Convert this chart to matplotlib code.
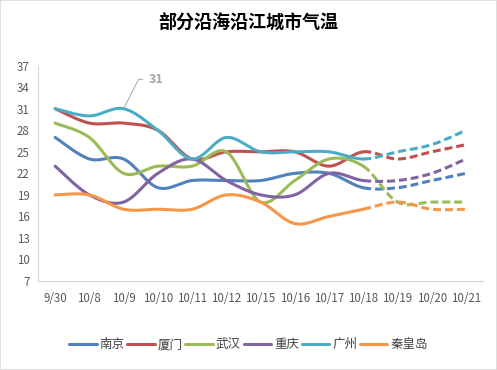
import numpy as np
import matplotlib
matplotlib.use('Agg')
import matplotlib.pyplot as plt
from matplotlib.patches import Rectangle

plt.rcParams['font.family'] = ['Noto Sans CJK SC', 'DejaVu Sans']

dates = ['9/30', '10/8', '10/9', '10/10', '10/11', '10/12', '10/15',
         '10/16', '10/17', '10/18', '10/19', '10/20', '10/21']
nanjing = [27, 24, 24, 20, 21, 21, 21, 22, 22, 20, 20, 21, 22]
xiamen = [31, 29, 29, 28, 24, 25, 25, 25, 23, 25, 24, 25, 26]
wuhan = [29, 27, 22, 23, 23, 25, 18, 21, 24, 23, 18, 18, 18]
chongqing = [23, 19, 18, 22, 24, 21, 19, 19, 22, 21, 21, 22, 24]
guangzhou = [31, 30, 31, 28, 24, 27, 25, 25, 25, 24, 25, 26, 28]
qinhuangdao = [19, 19, 17, 17, 17, 19, 18, 15, 16, 17, 18, 17, 17]
names = ['南京', '厦门', '武汉', '重庆', '广州', '秦皇岛']
colors = ['#4F81BD', '#C0504D', '#9BBB59', '#8064A2', '#4BACC6', '#F79646']
last_actual = 9  # 10/18, forecast dashed after this


def smooth(y, n=30):
    # excel-like bezier smoothing, control points at P +- (P_next - P_prev)/6
    pts = np.column_stack([np.arange(len(y)), np.asarray(y, float)])
    ext = np.vstack([pts[0], pts, pts[-1]])
    out = []
    t = np.linspace(0, 1, n)[:, None]
    for i in range(len(pts) - 1):
        p0, p3 = ext[i + 1], ext[i + 2]
        p1 = p0 + (ext[i + 2] - ext[i]) / 6
        p2 = p3 - (ext[i + 3] - ext[i + 1]) / 6
        seg = ((1 - t) ** 3) * p0 + 3 * ((1 - t) ** 2) * t * p1 + 3 * (1 - t) * t ** 2 * p2 + t ** 3 * p3
        out.append(seg if i == 0 else seg[1:])
    out = np.vstack(out)
    return out[:, 0], out[:, 1]


fig = plt.figure(figsize=(4.97, 3.70), dpi=100)
fig.patches.append(Rectangle((0, 0), 1, 1, transform=fig.transFigure, fill=False,
                             edgecolor='#D9D9D9', linewidth=1.2))
ax = fig.add_axes([0.0765, 0.2405, 0.8955, 0.582])

series = [nanjing, xiamen, wuhan, chongqing, guangzhou, qinhuangdao]
for vals, name, c in zip(series, names, colors):
    xs, ys = smooth(vals)
    m = xs <= last_actual
    ax.plot(xs[m], ys[m], color=c, linewidth=2.2, solid_capstyle='round', label=name)
    ax.plot(xs[xs >= last_actual], ys[xs >= last_actual], color=c, linewidth=2.2,
            linestyle=(0, (2.6, 1.3)))

ax.annotate('31', xy=(2, guangzhou[2]), xytext=(2.72, 35.1), fontsize=9, fontweight='bold',
            color='#A6A6A6', ha='left', va='center',
            arrowprops=dict(arrowstyle='-', color='#A6A6A6', lw=0.7, relpos=(0, 0.5),
                            shrinkA=2, shrinkB=0,
                            connectionstyle='angle,angleA=0,angleB=63,rad=0'))

ax.set_xlim(-0.5, len(dates) - 0.5)
ax.set_ylim(7, 37)
ax.set_yticks(np.arange(7, 38, 3))
ax.set_xticks(range(len(dates)))
ax.set_xticklabels(dates)
ax.tick_params(axis='both', length=0, labelsize=8.3, colors='#595959')
ax.tick_params(axis='x', pad=8)
ax.tick_params(axis='y', pad=6)
for s in ['top', 'right']:
    ax.spines[s].set_visible(False)
for s in ['left', 'bottom']:
    ax.spines[s].set_color('#D9D9D9')

fig.text(0.5, 0.94, '部分沿海沿江城市气温', ha='center', va='center', fontsize=13,
         fontweight='bold', color='#000000')

handles = [plt.Line2D([], [], color=c, linewidth=2.2, solid_capstyle='round') for c in colors]
fig.legend(handles, names, loc='center', bbox_to_anchor=(0.5, 0.068), ncol=6, frameon=False,
           fontsize=9, handlelength=2.2, handletextpad=0.25, columnspacing=0.2,
           labelcolor='#404040')

fig.savefig('out.png', dpi=100)
